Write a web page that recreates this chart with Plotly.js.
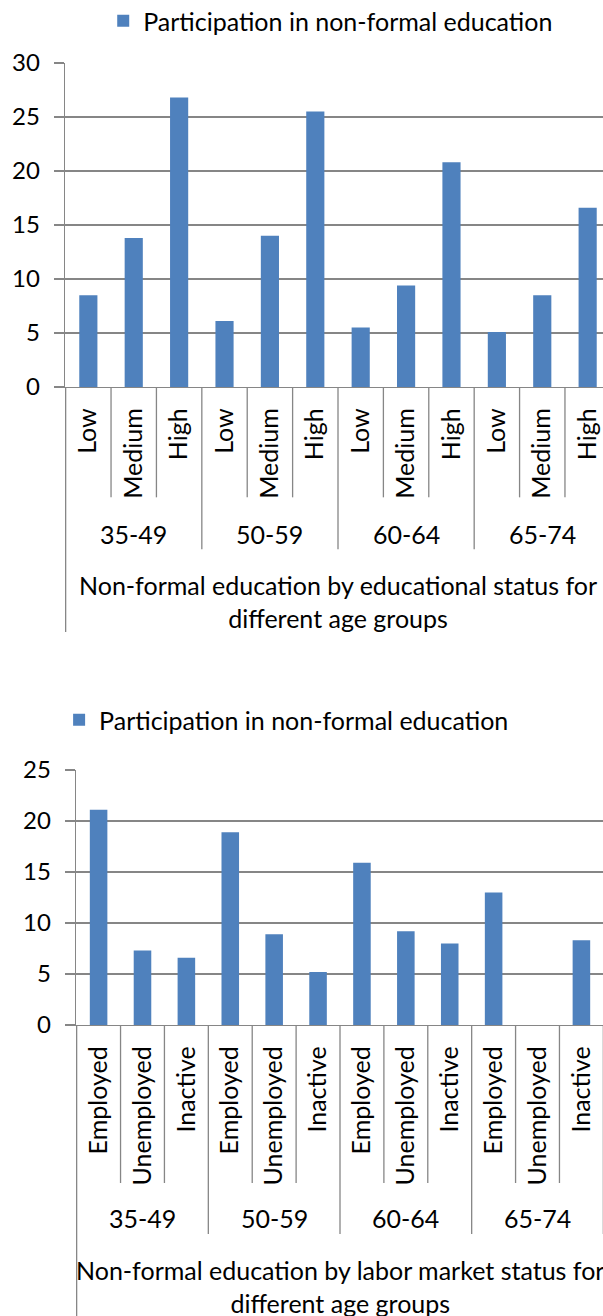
<!DOCTYPE html>
<html>
<head>
<meta charset="utf-8">
<script src="https://cdn.plot.ly/plotly-3.0.1.min.js"></script>
<style>
  html, body { margin: 0; padding: 0; width: 603px; height: 1316px; overflow: hidden; background: #fff; }
  #c1 { position: absolute; left: 0; top: 0; width: 620px; height: 658px; }
  #c2 { position: absolute; left: 0; top: 658px; width: 620px; height: 658px; }
</style>
</head>
<body>
<div id="c1"></div>
<div id="c2"></div>
<script>
// ---- data ----
const ageGroups = ['35-49', '50-59', '60-64', '65-74'];
const eduLevels = ['Low', 'Medium', 'High'];
const eduValues = [8.5, 13.8, 26.8, 6.1, 14.0, 25.5, 5.5, 9.4, 20.8, 5.1, 8.5, 16.6];
const laborStatus = ['Employed', 'Unemployed', 'Inactive'];
const laborValues = [21.1, 7.3, 6.6, 18.9, 8.9, 5.2, 15.9, 9.2, 8.0, 13.0, null, 8.3];
const seriesName = 'Participation in non-formal education';
const title1 = 'Non-formal education by educational status for<br>different age groups';
const title2 = 'Non-formal education by labor market status for<br>different age groups';

const FONT = 'Lato, "Open Sans", sans-serif';
const GRID = '#868686';
const BAR = '#4F81BD';

function build(div, subs, values, yMax, title, g) {
  const keys = [];
  const labels = [];
  ageGroups.forEach(a => subs.forEach(s => { keys.push(a + ' ' + s); labels.push(s); }));
  const H = g.height - g.t - g.b;
  const py = p => -(p - (g.height - g.b)) / H; // pixel (within div) -> paper y
  const n = subs.length;
  const shapes = [];
  const annotations = [];
  const line = { color: GRID, width: 1.3 };
  for (let k = 0; k <= keys.length; k++) {
    const isGroup = k % n === 0;
    shapes.push({ type: 'line', xref: 'x', yref: 'paper', x0: k - 0.5, x1: k - 0.5,
      y0: 0, y1: py(k === 0 ? g.leftEnd : (isGroup ? g.groupEnd : g.subEnd)), line });
  }
  ageGroups.forEach((a, i) => {
    annotations.push({ xref: 'x', yref: 'paper', x: i * n + (n - 1) / 2, y: py(g.groupLabel),
      text: a, showarrow: false, yanchor: 'middle', font: { family: FONT, size: g.fs, color: '#000' } });
  });
  annotations.push({ xref: 'paper', yref: 'paper', x: 0.5, y: py(g.titleY), text: title,
    showarrow: false, yanchor: 'middle', align: 'center',
    font: { family: FONT, size: g.fs, color: '#000' } });

  const trace = { type: 'bar', x: keys, y: values, name: seriesName,
    marker: { color: BAR }, showlegend: true };
  const layout = {
    width: 620, height: g.height,
    margin: { l: g.l, r: g.r, t: g.t, b: g.b, pad: 0, autoexpand: false },
    paper_bgcolor: '#fff', plot_bgcolor: '#fff',
    bargap: 0.6,
    font: { family: FONT, size: g.fs, color: '#000' },
    showlegend: true,
    legend: { orientation: 'h', x: g.legX, xanchor: 'left', y: py(g.legY), yanchor: 'middle',
      yref: 'paper', font: { family: FONT, size: g.fs, color: '#000' }, bgcolor: 'rgba(0,0,0,0)' },
    xaxis: { type: 'category', tickmode: 'array', tickvals: keys, ticktext: labels,
      tickangle: -90, ticks: '', showgrid: false, showline: true, linecolor: GRID, linewidth: 1.3,
      zeroline: false, fixedrange: true, ticklabelstandoff: g.xStand,
      tickfont: { family: FONT, size: g.xfs, color: '#000' } },
    yaxis: { range: [0, yMax], dtick: 5, tick0: 0, showgrid: true, gridcolor: GRID, gridwidth: 1.3,
      showline: true, linecolor: GRID, linewidth: 1.3, ticks: 'outside', ticklen: 10, tickcolor: GRID,
      tickwidth: 1.3, zeroline: false, ticklabelstandoff: g.yStand,
      tickfont: { family: FONT, size: 24, color: '#000' } },
    shapes, annotations
  };
  Plotly.newPlot(div, [trace], layout, { staticPlot: true, displayModeBar: false });
}

build('c1', eduLevels, eduValues, 30, title1, {
  height: 658, l: 65, r: 9, t: 63, b: 270.5,
  subEnd: 498, groupEnd: 550, leftEnd: 633, groupLabel: 535, titleY: 602,
  legX: 0.07, legY: 21, xStand: 10, yStand: 9, fs: 25, xfs: 25
});
build('c2', laborStatus, laborValues, 25, title2, {
  height: 658, l: 76, r: 16, t: 112, b: 291,
  subEnd: 525, groupEnd: 576, leftEnd: 700, groupLabel: 560, titleY: 628,
  legX: -0.032, legY: 62, xStand: 10, yStand: 9, fs: 25, xfs: 25
});
</script>
</body>
</html>
